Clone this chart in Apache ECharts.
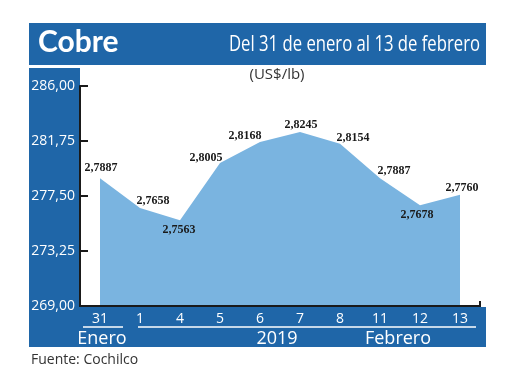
<!DOCTYPE html>
<html>
<head>
<meta charset="utf-8">
<script src="https://cdn.jsdelivr.net/npm/echarts@6/dist/echarts.min.js"></script>
<style>
html,body{margin:0;padding:0;background:#fff;}
#c{width:520px;height:390px;}
</style>
</head>
<body>
<div id="c"></div>
<script>
// ---- data ----
const categories = ['31', '1', '4', '5', '6', '7', '8', '11', '12', '13'];
const prices = [2.7887, 2.7658, 2.7563, 2.8005, 2.8168, 2.8245, 2.8154, 2.7887, 2.7678, 2.7760];
const yAxisMin = 269.00;
const yAxisMax = 286.00;
const yAxisStep = 4.25;
const monthGroups = ['Enero', '2019', 'Febrero'];
const titleText = 'Cobre';
const subtitleText = 'Del 31 de enero al 13 de febrero';
const unitText = '(US$/lb)';
const sourceText = 'Fuente: Cochilco';

// ---- layout (label nudges per point) ----
const labelOffsets = [[1,-10],[13,-7],[-1,10],[-14,-5],[-15,-6],[1,-7],[13,-6],[14,-7],[-3,10],[2,-7]];

const BLUE = '#1f66a8';
const AREA = '#7ab4e0';
const numFont = '"Liberation Serif", "DejaVu Serif", serif';

function fmt(v, d) { return v.toFixed(d).replace('.', ','); }

function measure(text, font) {
  const cv = document.createElement('canvas').getContext('2d');
  cv.font = font;
  return cv.measureText(text).width;
}

const subFont = '22px "Open Sans", sans-serif';
const subW = measure(subtitleText, subFont);
const subTarget = 251;
const subScale = subTarget / subW;

const chart = echarts.init(document.getElementById('c'), null, {renderer: 'canvas'});

const seriesData = prices.map((p, i) => ({
  value: +(p * 100 - yAxisMin).toFixed(4),
  label: { offset: labelOffsets[i] }
}));

chart.setOption({
  animation: false,
  backgroundColor: '#fff',
  grid: { left: 80, right: 40, top: 86, bottom: 84, containLabel: false },
  xAxis: {
    type: 'category',
    data: categories,
    boundaryGap: true,
    axisLine: { lineStyle: { color: '#1a1a1a', width: 2 } },
    axisTick: { show: false },
    axisLabel: { color: '#fff', fontSize: 14, margin: 6, fontFamily: '"Open Sans", sans-serif', interval: 0 },
    splitLine: { show: false },
    z: 5
  },
  yAxis: {
    type: 'value',
    min: 0,
    max: yAxisMax - yAxisMin,
    interval: yAxisStep,
    axisLine: { show: true, lineStyle: { color: '#1a1a1a', width: 2 } },
    axisTick: { show: true, inside: true, length: 8, lineStyle: { color: '#1a1a1a', width: 2 } },
    axisLabel: {
      color: '#fff', fontSize: 14, margin: 5,
      fontFamily: '"Open Sans", sans-serif',
      formatter: v => fmt(v + yAxisMin, 2)
    },
    splitLine: { show: false },
    z: 5
  },
  series: [{
    type: 'line',
    data: seriesData,
    symbol: 'circle',
    symbolSize: 1,
    showSymbol: true,
    itemStyle: { color: 'rgba(0,0,0,0)' },
    lineStyle: { color: AREA, width: 0 },
    areaStyle: { color: AREA, opacity: 1 },
    z: 2,
    label: {
      show: true,
      position: 'inside',
      fontFamily: numFont,
      fontWeight: 'bold',
      fontSize: 12,
      color: '#1a1a1a',
      formatter: p => fmt(prices[p.dataIndex], 4)
    }
  }],
  graphic: [
    { type: 'rect', shape: { x: 29, y: 23, width: 457, height: 42 }, style: { fill: BLUE }, z: 0, silent: true },
    { type: 'rect', shape: { x: 29, y: 68, width: 51, height: 279 }, style: { fill: BLUE }, z: 0, silent: true },
    { type: 'rect', shape: { x: 29, y: 307, width: 457, height: 40 }, style: { fill: BLUE }, z: 0, silent: true },
    { type: 'text', x: 38, y: 42, style: { text: titleText, fill: '#fff', font: 'bold 30px Lato, "Open Sans", sans-serif', textVerticalAlign: 'middle' }, z: 10 },
    { type: 'text', x: 480, y: 45, scaleX: subScale, scaleY: 1,
      style: { text: subtitleText, fill: '#fff', font: subFont, textAlign: 'right', textVerticalAlign: 'middle' }, z: 10 },
    { type: 'text', x: 277, y: 75, style: { text: unitText, fill: '#333', font: '15px "Open Sans", sans-serif', textAlign: 'center', textVerticalAlign: 'middle' }, z: 10 },
    { type: 'text', x: 31, y: 360, style: { text: sourceText, fill: '#333', font: '14px "Open Sans", sans-serif', textVerticalAlign: 'middle' }, z: 10 },
    { type: 'line', shape: { x1: 83, y1: 327, x2: 123, y2: 327 }, style: { stroke: '#fff', lineWidth: 1.5 }, z: 10 },
    { type: 'line', shape: { x1: 138, y1: 327, x2: 476, y2: 327 }, style: { stroke: '#fff', lineWidth: 1.5 }, z: 10 },
    { type: 'text', x: 102, y: 339, style: { text: monthGroups[0], fill: '#fff', font: '18px "Open Sans", sans-serif', textAlign: 'center', textVerticalAlign: 'middle' }, z: 10 },
    { type: 'text', x: 277, y: 339, style: { text: monthGroups[1], fill: '#fff', font: '18px "Open Sans", sans-serif', textAlign: 'center', textVerticalAlign: 'middle' }, z: 10 },
    { type: 'text', x: 398, y: 339, style: { text: monthGroups[2], fill: '#fff', font: '18px "Open Sans", sans-serif', textAlign: 'center', textVerticalAlign: 'middle' }, z: 10 },
    { type: 'line', shape: { x1: 480, y1: 301, x2: 480, y2: 307 }, style: { stroke: '#1a1a1a', lineWidth: 2 }, z: 10 }
  ]
});
</script>
</body>
</html>
